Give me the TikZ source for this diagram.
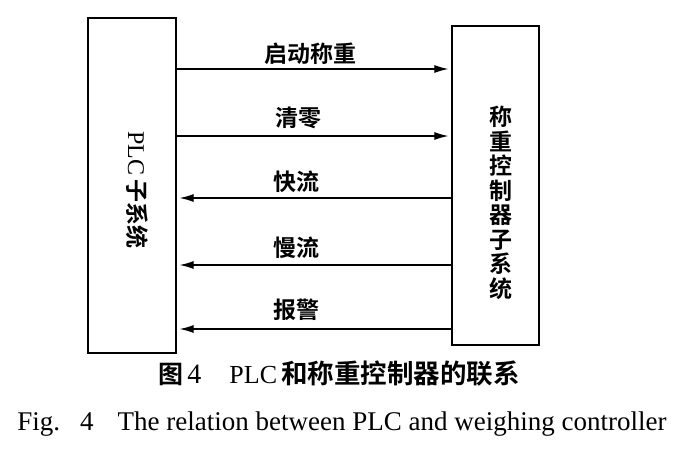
\documentclass[tikz,border=0pt]{standalone}
\usepackage{fontspec}
\setmainfont{Liberation Serif}
\newfontfamily\cjk{Noto Sans CJK SC Bold}
\usetikzlibrary{arrows.meta}

\tikzset{
  sysbox/.style={draw, line width=1.3pt, inner sep=0pt},
  sig/.style={-{Latex[length=14pt,width=8pt]}, line width=1.2pt, shorten >=3pt},
  siglabel/.style={anchor=center, font=\cjk\fontsize{23}{24}\selectfont},
}

\begin{document}
\begin{tikzpicture}[x=1pt, y=-1pt]
    \useasboundingbox (0,0) rectangle (676,450);

    % Teilsysteme
    \node[sysbox, minimum width=88pt, minimum height=335pt] (plc) at (132,185.5) {};
    \node[rotate=-90, font=\fontsize{24}{24}\selectfont] (plctext) at (137,190) {PLC\,{\cjk\fontsize{23}{24}\selectfont 子系统}};
    \node[sysbox, minimum width=87pt, minimum height=319pt] (ctl) at (495.5,185.5) {};
    \node[align=center, font=\cjk\fontsize{23}{24.5}\selectfont] (ctltext) at (501,203)
        {称\\重\\控\\制\\器\\子\\系\\统};

    % Anschlusspunkte
    \foreach \n/\y in {1/69, 2/136, 3/198, 4/265, 5/329} {
        \coordinate (l\n) at (plc.east |- 0,\y);
        \coordinate (r\n) at (ctl.west |- 0,\y);
    }

    % Signale
    \draw[sig] (l1) -- node[siglabel, pos=0.487, yshift=15pt] (s1) {启动称重} (r1);
    \draw[sig] (l2) -- node[siglabel, pos=0.443, yshift=18pt] (s2) {清零} (r2);
    \draw[sig] (r3) -- node[siglabel, pos=0.564, yshift=16pt] (s3) {快流} (l3);
    \draw[sig] (r4) -- node[siglabel, pos=0.564, yshift=17pt] (s4) {慢流} (l4);
    \draw[sig] (r5) -- node[siglabel, pos=0.564, yshift=19pt] (s5) {报警} (l5);

    % Bildunterschrift
    \node[font=\fontsize{26}{28}\selectfont] (cap1) at (339,374)
        {{\cjk\fontsize{25}{28}\selectfont 图}\hspace{4pt}{\fontsize{28}{28}\selectfont 4}\hspace{28pt}PLC\hspace{4pt}{\cjk\fontsize{26.5}{28}\selectfont 和称重控制器的联系}};
    \node[font=\fontsize{27}{30}\selectfont] (cap2) at (342,424)
        {Fig.\hspace{20pt}4\hspace{24pt}The relation between PLC and weighing controller};
\end{tikzpicture}
\end{document}
